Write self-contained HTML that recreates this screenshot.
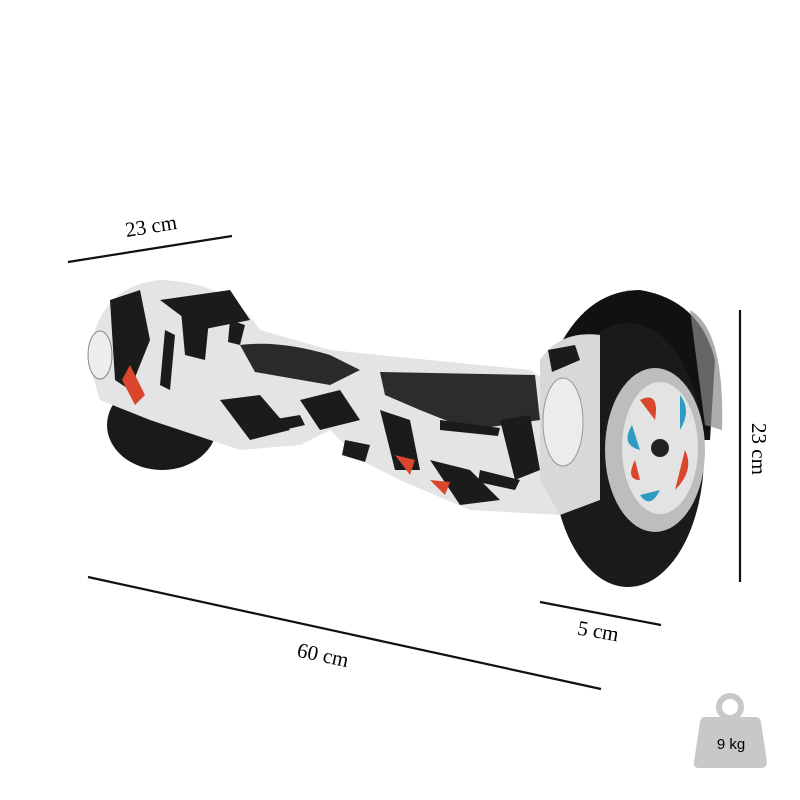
<!DOCTYPE html>
<html><head><meta charset="utf-8"><style>
html,body{margin:0;padding:0;background:#fff;}
svg{display:block;}
text{font-family:"Liberation Serif",serif;}
</style></head><body>
<svg width="800" height="800" viewBox="0 0 800 800" xmlns="http://www.w3.org/2000/svg">
<rect width="800" height="800" fill="#fff"/>
<g stroke="#111" stroke-width="2.2">
<line x1="68" y1="262" x2="232" y2="236"/>
<line x1="740" y1="310" x2="740" y2="582"/>
<line x1="88" y1="577" x2="601" y2="689"/>
<line x1="540" y1="602" x2="661" y2="625"/>
</g>
<text x="151" y="233" font-size="21" text-anchor="middle" transform="rotate(-9 151 226)">23 cm</text>
<text x="0" y="0" font-size="21" text-anchor="middle" transform="translate(752 449) rotate(90)">23 cm</text>
<text x="323" y="662" font-size="21" text-anchor="middle" transform="rotate(12 323 655)">60 cm</text>
<text x="598" y="638" font-size="21" text-anchor="middle" transform="rotate(10 598 632)">5 cm</text>
<ellipse cx="162" cy="425" rx="55" ry="45" fill="#1a1a1a"/>
<path d="M95 330 Q110 285 160 280 Q230 282 260 330 L330 350 L530 370 L560 390 L590 470 L585 500 L560 515 L470 510 L400 480 L360 460 L330 430 L300 445 L240 450 L150 420 L100 400 L88 360 Z" fill="#e4e4e4"/>
<path d="M240 345 Q280 340 330 355 L360 370 L330 385 L255 372 Z" fill="#2a2a2a"/>
<path d="M380 372 L535 375 L540 420 L470 430 L420 410 L385 395 Z" fill="#2c2c2c"/>
<g fill="#1b1b1b">
<path d="M110 300 L140 290 L150 340 L130 390 L115 380 Z"/>
<path d="M180 300 L210 310 L205 360 L185 355 Z"/>
<path d="M220 400 L260 395 L290 430 L250 440 Z"/>
<path d="M380 410 L410 420 L420 470 L395 470 Z"/>
<path d="M430 460 L470 470 L500 500 L460 505 Z"/>
<path d="M500 420 L530 415 L540 470 L515 480 Z"/>
<path d="M160 300 L230 290 L250 320 L200 330 Z"/>
<path d="M300 400 L340 390 L360 420 L320 430 Z"/>
<path d="M165 330 L175 335 L170 390 L160 385 Z"/>
<path d="M230 320 L245 325 L240 345 L228 342 Z"/>
<path d="M440 420 L500 428 L498 436 L440 430 Z"/>
<path d="M345 440 L370 445 L365 462 L342 455 Z"/>
<path d="M480 470 L520 480 L515 490 L478 482 Z"/>
<path d="M270 420 L300 415 L305 425 L275 432 Z"/>
</g>
<g fill="#d9462c">
<path d="M130 365 L145 395 L135 405 L122 380 Z"/>
<path d="M395 455 L415 460 L410 475 Z"/>
<path d="M575 345 L600 348 L595 358 Z"/>
<path d="M430 480 L450 482 L445 495 Z"/>
</g>
<ellipse cx="100" cy="355" rx="12" ry="24" fill="#eee" stroke="#888"/>
<path d="M555 355 Q585 290 640 290 Q700 300 715 360 L710 440 L560 440 Z" fill="#111"/>
<path d="M690 310 Q725 330 722 430 L705 425 Z" fill="#8a8a8a" opacity="0.7"/>
<ellipse cx="628" cy="455" rx="76" ry="132" fill="#1a1a1a"/>
<ellipse cx="655" cy="450" rx="50" ry="82" fill="#bdbdbd"/>
<ellipse cx="660" cy="448" rx="38" ry="66" fill="#e3e3e3"/>
<g>
<path d="M640 400 Q660 390 655 420 Z" fill="#d9462c"/>
<path d="M680 395 Q692 410 680 430 Z" fill="#2e9cc2"/>
<path d="M685 450 Q695 470 675 490 Z" fill="#d9462c"/>
<path d="M660 490 Q650 510 640 495 Z" fill="#2e9cc2"/>
<path d="M635 460 Q625 480 640 480 Z" fill="#d9462c"/>
<path d="M632 425 Q620 445 640 450 Z" fill="#2e9cc2"/>
<circle cx="660" cy="448" r="9" fill="#222"/>
</g>
<path d="M540 360 Q560 330 600 335 L600 500 L560 515 L540 480 Z" fill="#d8d8d8"/>
<path d="M548 350 L575 345 L580 360 L552 372 Z" fill="#1b1b1b"/>
<ellipse cx="563" cy="422" rx="20" ry="44" fill="#ececec" stroke="#999"/>
<circle cx="730" cy="707" r="11" fill="none" stroke="#c8c8c8" stroke-width="6"/>
<path d="M704 717 L756 717 Q760 717 761 722 L767 762 Q767 768 761 768 L699 768 Q693 768 694 762 L700 722 Q701 717 704 717 Z" fill="#c8c8c8"/>
<text x="731" y="749" font-size="15" text-anchor="middle" style="font-family:'Liberation Sans',sans-serif">9 kg</text>
</svg>
</body></html>
